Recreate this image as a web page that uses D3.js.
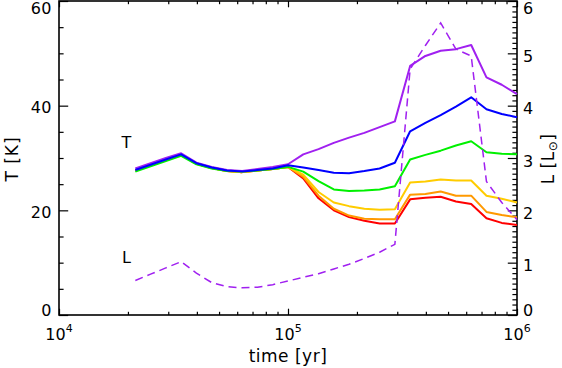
<!DOCTYPE html>
<html>
<head>
<meta charset="utf-8">
<script src="https://cdn.jsdelivr.net/npm/d3@7"></script>
<style>
  body { margin: 0; background: #fff; }
  text { font-family: "DejaVu Sans", sans-serif; fill: #000; }
</style>
</head>
<body>
<div id="chart"></div>
<script>
// time grid [yr]
const time = [21544, 25119, 29286, 34146, 39811, 46416, 54117, 63096, 73564, 85770,
  100000, 116591, 135936, 158489, 184785, 215443, 251189, 292864, 341455, 398107,
  464159, 541170, 630957, 735642, 857696, 1000000];

// temperatures [K], one list per model
const tPurple = [28.0, 29.0, 30.0, 30.9, 29.1, 28.3, 27.7, 27.5, 27.9, 28.3,
  28.8, 30.7, 31.7, 32.9, 33.9, 34.8, 35.9, 37.0, 47.6, 49.5, 50.5, 50.8, 51.6, 45.4, 44.0, 42.2];
const tBlue = [27.7, 28.7, 29.7, 30.7, 29.0, 28.2, 27.6, 27.4, 27.7, 28.0,
  28.6, 28.2, 27.7, 27.2, 27.1, 27.5, 28.0, 29.1, 35.1, 36.7, 38.2, 39.8, 41.6, 39.3, 38.4, 37.8];
const tGreen = [27.4, 28.4, 29.4, 30.4, 28.8, 28.0, 27.5, 27.4, 27.6, 27.9,
  28.3, 27.4, 25.6, 24.0, 23.7, 23.8, 24.0, 24.6, 29.7, 30.6, 31.4, 32.4, 33.2, 31.1, 30.8, 30.7];
const tYellow = [27.6, 28.6, 29.6, 30.6, 28.9, 28.1, 27.5, 27.3, 27.6, 27.9,
  28.3, 26.8, 23.5, 21.5, 20.8, 20.3, 20.1, 20.2, 25.3, 25.5, 25.9, 25.7, 25.7, 22.8, 22.2, 21.5];
const tOrange = [27.6, 28.6, 29.6, 30.6, 28.9, 28.1, 27.5, 27.3, 27.6, 27.9,
  28.3, 26.4, 22.8, 20.3, 19.0, 18.4, 18.3, 18.3, 23.0, 23.1, 23.6, 22.8, 22.8, 19.7, 19.1, 18.7];
const tRed = [27.6, 28.6, 29.6, 30.7, 28.9, 28.1, 27.5, 27.3, 27.6, 27.9,
  28.3, 26.1, 22.3, 20.0, 18.7, 18.0, 17.5, 17.5, 22.1, 22.4, 22.6, 21.7, 21.2, 18.5, 17.6, 17.2];

// luminosity [Lsun]
const lum = [0.66, 0.78, 0.90, 1.02, 0.80, 0.62, 0.54, 0.52, 0.53, 0.58,
  0.65, 0.72, 0.79, 0.88, 0.97, 1.08, 1.20, 1.35, 4.70, 5.15, 5.58, 5.08, 4.95, 2.55, 2.15, 1.82];

const seriesT = [
  { values: tRed, color: "#ff0000" },
  { values: tOrange, color: "#ff9900" },
  { values: tYellow, color: "#ffcc00" },
  { values: tGreen, color: "#00f000" },
  { values: tPurple, color: "#a020f0" },
  { values: tBlue, color: "#0000ff" }
];

const xMajor = [1e4, 1e5, 1e6];
const xMinor = [2e4, 3e4, 4e4, 5e4, 6e4, 7e4, 8e4, 9e4, 2e5, 3e5, 4e5, 5e5, 6e5, 7e5, 8e5, 9e5];
const xLabelExp = ["4", "5", "6"];
const tMajor = [0, 20, 40, 60];
const tMinor = [5, 10, 15, 25, 30, 35, 45, 50, 55];
const lMajor = [0, 1, 2, 3, 4, 5, 6];
const lMinor = d3.range(1, 60).filter(d => d % 10 !== 0).map(d => d / 10);

const width = 562, height = 368;
const m = { left: 59, right: 517, top: 1, bottom: 315 };

const svg = d3.select("#chart").append("svg")
  .attr("width", width)
  .attr("height", height);

const x = d3.scaleLog().domain([1e4, 1e6]).range([m.left, m.right]);
const yT = d3.scaleLinear().domain([0, 60]).range([m.bottom, m.top]);
const yL = d3.scaleLinear().domain([0, 6]).range([m.bottom, m.top]);

// ticks (inward, like the original)
function ticks(axis, tr) {
  const g = svg.append("g").attr("transform", tr).call(axis);
  g.select(".domain").remove();
  g.selectAll("line").attr("stroke", "#000").attr("stroke-width", 1.2);
  g.selectAll("text").remove();
}
ticks(d3.axisBottom(x).tickValues(xMajor).tickSize(-6.3), `translate(0,${m.bottom})`);
ticks(d3.axisBottom(x).tickValues(xMinor).tickSize(-3.2), `translate(0,${m.bottom})`);
ticks(d3.axisTop(x).tickValues(xMajor).tickSize(-6.3), `translate(0,${m.top})`);
ticks(d3.axisTop(x).tickValues(xMinor).tickSize(-3.2), `translate(0,${m.top})`);
ticks(d3.axisLeft(yT).tickValues(tMajor).tickSize(-9.2), `translate(${m.left},0)`);
ticks(d3.axisLeft(yT).tickValues(tMinor).tickSize(-4.6), `translate(${m.left},0)`);
ticks(d3.axisRight(yL).tickValues(lMajor).tickSize(-9.2), `translate(${m.right},0)`);
ticks(d3.axisRight(yL).tickValues(lMinor).tickSize(-4.6), `translate(${m.right},0)`);

svg.append("rect")
  .attr("x", m.left).attr("y", m.top)
  .attr("width", m.right - m.left).attr("height", m.bottom - m.top)
  .attr("fill", "none").attr("stroke", "#000").attr("stroke-width", 1.6);

// tick labels
const clampY = v => Math.max(8, Math.min(310, v));
svg.append("g").selectAll("text").data(tMajor).join("text")
  .attr("x", m.left - 7)
  .attr("y", d => clampY(yT(d) + 2) + 5.8)
  .attr("text-anchor", "end")
  .attr("font-size", 16)
  .attr("letter-spacing", 0.5)
  .text(d => d);

svg.append("g").selectAll("text").data(lMajor).join("text")
  .attr("x", m.right + 6)
  .attr("y", d => clampY(yL(d) + 3) + 5.8)
  .attr("text-anchor", "start")
  .attr("font-size", 16)
  .text(d => d);

const xl = svg.append("g").selectAll("text").data(xMajor).join("text")
  .attr("x", d => x(d))
  .attr("y", 340)
  .attr("text-anchor", "middle")
  .attr("font-size", 16);
xl.append("tspan").text("10");
xl.append("tspan").attr("dy", -8).attr("font-size", 11).text((d, i) => xLabelExp[i]);

// axis titles
svg.append("text")
  .attr("x", (m.left + m.right) / 2).attr("y", 362)
  .attr("text-anchor", "middle").attr("font-size", 17)
  .attr("letter-spacing", 0.5)
  .text("time [yr]");

svg.append("text")
  .attr("transform", "translate(18,159) rotate(-90)")
  .attr("text-anchor", "middle").attr("font-size", 17)
  .attr("letter-spacing", 1)
  .text("T [K]");

const lt = svg.append("text")
  .attr("transform", "translate(554,159) rotate(-90)")
  .attr("text-anchor", "middle").attr("font-size", 17)
  .attr("letter-spacing", 0.5);
lt.append("tspan").text("L [L");
lt.append("tspan").attr("font-size", 12).attr("dy", 3).text("\u2299");
lt.append("tspan").attr("dy", -3).text("]");

// in-plot labels
svg.append("text").attr("x", 126.5).attr("y", 148)
  .attr("text-anchor", "middle").attr("font-size", 16).text("T");
svg.append("text").attr("x", 126.5).attr("y", 263)
  .attr("text-anchor", "middle").attr("font-size", 16).text("L");

// lines
const lineT = d3.line().x((d, i) => x(time[i])).y(d => yT(d));
const lineL = d3.line().x((d, i) => x(time[i])).y(d => yL(d));

svg.append("g").selectAll("path").data(seriesT).join("path")
  .attr("d", d => lineT(d.values))
  .attr("fill", "none")
  .attr("stroke", d => d.color)
  .attr("stroke-width", 2)
  .attr("stroke-linejoin", "round");

svg.append("path")
  .attr("d", lineL(lum))
  .attr("fill", "none")
  .attr("stroke", "#a020f0")
  .attr("stroke-width", 1.5)
  .attr("stroke-dasharray", "8,5");
</script>
</body>
</html>
